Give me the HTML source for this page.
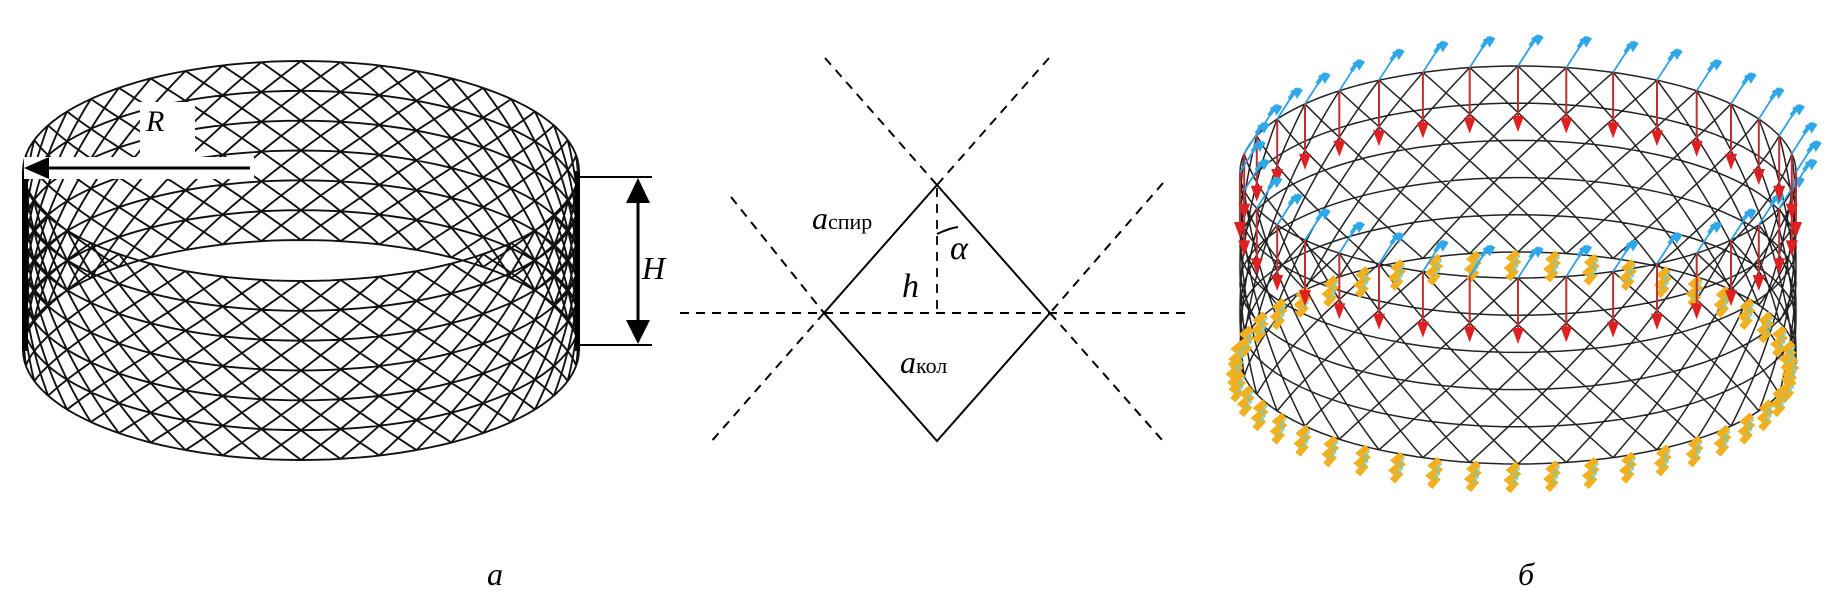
<!DOCTYPE html>
<html><head><meta charset="utf-8">
<style>
html,body{margin:0;padding:0;background:#fff;}
svg{display:block;}
text{font-family:"Liberation Serif",serif;font-style:italic;fill:#000;}
</style></head>
<body>
<svg id="s" width="1838" height="613" viewBox="0 0 1838 613" xmlns="http://www.w3.org/2000/svg">
<g id="left"></g>
<g id="right"></g>
<!-- R annotation -->
<rect x="24" y="157" width="230" height="22" fill="#fff"/>
<rect x="140" y="102" width="55" height="56" fill="#fff"/>
<line x1="45" y1="168" x2="250" y2="168" stroke="#000" stroke-width="3"/>
<polygon points="24,168 49,157 49,179" fill="#000"/>
<text x="146" y="131" font-size="30">R</text>
<!-- H dimension -->
<line x1="580" y1="177" x2="652" y2="177" stroke="#000" stroke-width="2"/>
<line x1="580" y1="345" x2="652" y2="345" stroke="#000" stroke-width="2"/>
<line x1="638" y1="185" x2="638" y2="338" stroke="#000" stroke-width="3"/>
<polygon points="638,178 626,203 650,203" fill="#000"/>
<polygon points="638,344 626,320 650,320" fill="#000"/>
<text x="642" y="279" font-size="32">H</text>
<!-- middle diagram -->
<g stroke="#000" stroke-width="2" stroke-dasharray="9,7" fill="none">
<line x1="680" y1="313" x2="1190" y2="313"/>
<line x1="825" y1="58" x2="937" y2="185"/>
<line x1="1049" y1="58" x2="937" y2="185"/>
<line x1="731" y1="197" x2="824" y2="313"/>
<line x1="824" y1="313" x2="710" y2="443"/>
<line x1="1163" y1="183" x2="1050" y2="313"/>
<line x1="1050" y1="313" x2="1163" y2="441"/>
<line x1="937" y1="188" x2="937" y2="311" stroke-width="1.8"/>
</g>
<polygon points="937,185 1050,313 937,441 824,313" fill="none" stroke="#000" stroke-width="2"/>
<path d="M937,234 Q950,228 958,227" fill="none" stroke="#000" stroke-width="2"/>
<text x="950" y="259" font-size="34">α</text>
<text x="902" y="297" font-size="34">h</text>
<text x="812" y="229" font-size="32">a<tspan font-style="normal" font-size="22">спир</tspan></text>
<text x="900" y="373" font-size="32">a<tspan font-style="normal" font-size="22">кол</tspan></text>
<text x="487" y="585" font-size="32">а</text>
<text x="1518" y="585" font-size="32">б</text>
</svg>
<script>
(function(){
var NS="http://www.w3.org/2000/svg";
function el(p,n,a){var e=document.createElementNS(NS,n);for(var k in a)e.setAttribute(k,a[k]);p.appendChild(e);return e;}
function cyl(g,o){
  var d="";
  function pt(th,z){var cy=o.top+(o.bot-o.top)*z;return [(o.cx+o.rx*Math.sin(th)).toFixed(1),(cy+o.ry*Math.cos(th)).toFixed(1)];}
  for(var s=-1;s<=1;s+=2){
    for(var i=0;i<o.N;i++){
      var th0=i*2*Math.PI/o.N;var pts=[];
      for(var j=0;j<=24;j++){var z=j/24;var p=pt(th0+s*o.tw*z,z);pts.push(p.join(","));}
      d+="M"+pts.join("L");
    }
  }
  for(var r=0;r<o.rings;r++){
    var z=r/(o.rings-1);var pts=[];
    for(var j=0;j<=120;j++){pts.push(pt(j*2*Math.PI/120,z).join(","));}
    d+="M"+pts.join("L");
  }
  el(g,"path",{d:d,fill:"none",stroke:o.col,"stroke-width":o.sw});
  return pt;
}
var L=document.getElementById("left");
cyl(L,{cx:301,rx:278,top:171,bot:350,ry:110,N:44,tw:Math.PI*2*6/44,rings:7,col:"#111",sw:1.9});
el(L,"rect",{x:22,y:171,width:6,height:180,fill:"#000"});
el(L,"rect",{x:575,y:171,width:5,height:180,fill:"#000"});
var R=document.getElementById("right");
var o={cx:1518,rx:278,top:172,bot:358,ry:106,N:36,tw:Math.PI*2*4/36,rings:6,col:"#222",sw:1.5};
var pt=cyl(R,o);
var n=44;
for(var i=0;i<n;i++){
  var th=i*2*Math.PI/n;var p=pt(th,1);var x=+p[0],y=+p[1];
  el(R,"path",{d:"M"+x+","+y+" l-7,6 l5,4 l-7,6 l5,4 l-6,7",fill:"none",stroke:"#f0b020","stroke-width":7});
  el(R,"path",{d:"M"+(x+2)+","+(y+4)+" l-6,6 l4,4 l-6,6",fill:"none",stroke:"#5cd0e0","stroke-width":1.3});
}
for(var i=0;i<36;i++){
  var th=i*2*Math.PI/36;var p=pt(th,0);var x=+p[0],y=+p[1];
  el(R,"line",{x1:x,y1:y,x2:x,y2:y+60,stroke:"#c03030","stroke-width":2});
  el(R,"polygon",{points:(x-6)+","+(y+50)+" "+(x+6)+","+(y+50)+" "+x+","+(y+66),fill:"#e02020"});
  el(R,"line",{x1:x,y1:y,x2:x+18,y2:y-28,stroke:"#30a0e0","stroke-width":1.8});
  el(R,"path",{d:"M"+(x+12)+","+(y-20)+" l6,-8 l2,4 l4,-6 M"+(x+14)+","+(y-26)+" l8,-4",fill:"none",stroke:"#30a8e8","stroke-width":4});
}
})();
</script>
</body></html>
